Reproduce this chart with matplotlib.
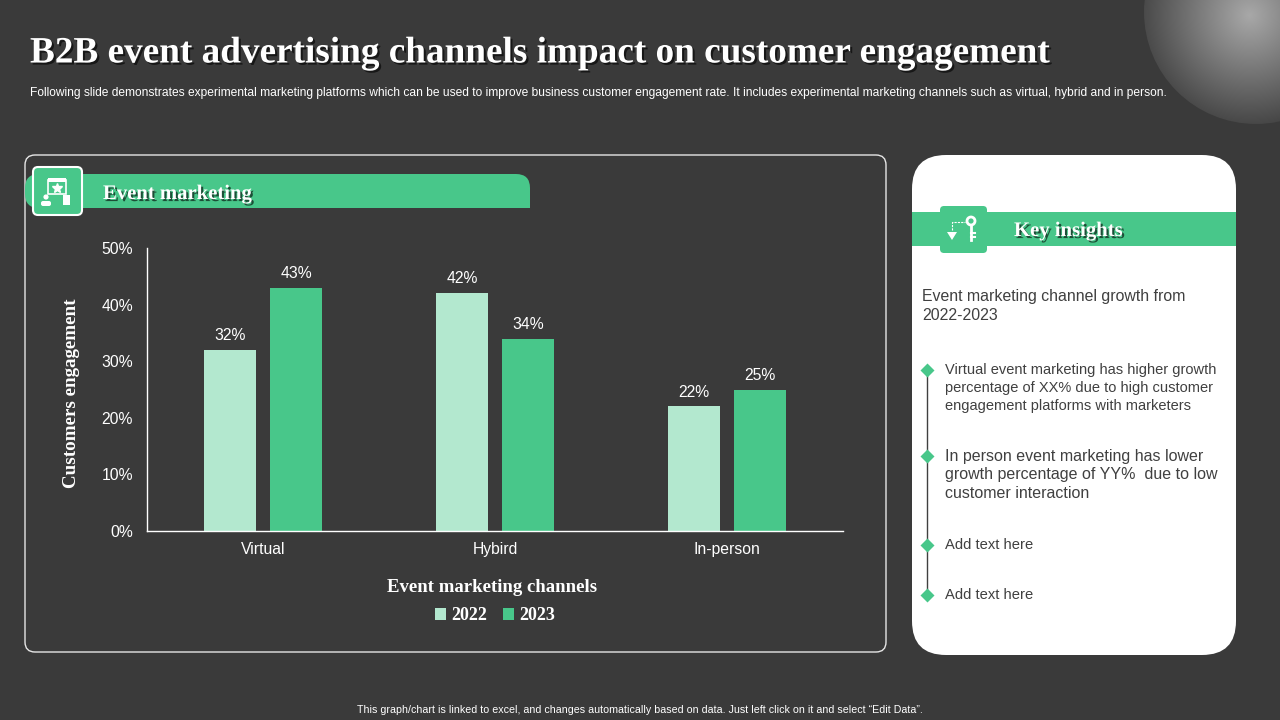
import numpy as np
import matplotlib
matplotlib.use("Agg")
from matplotlib import pyplot as plt
from matplotlib.patches import FancyBboxPatch, Rectangle, Circle, Polygon
import matplotlib.patheffects as pe

# data
categories = ["Virtual", "Hybird", "In-person"]
years = ["2022", "2023"]
engagement_2022 = [32, 42, 22]
engagement_2023 = [43, 34, 25]
y_ticks = [0, 10, 20, 30, 40, 50]

title = "B2B event advertising channels impact on customer engagement"
subtitle = ("Following slide demonstrates experimental marketing platforms which can be used to improve "
            "business customer engagement rate. It includes experimental marketing channels such as "
            "virtual, hybrid and in person.")
footer = ("This graph/chart is linked to excel, and changes automatically based on data. "
          "Just left click on it and select \u201cEdit Data\u201d.")
insight_head = ["Event marketing channel growth from", "2022-2023"]
bullets = [
    ["Virtual event marketing has higher growth", "percentage of XX% due to high customer",
     "engagement platforms with marketers"],
    ["In person event marketing has lower", "growth percentage of YY%  due to low",
     "customer interaction"],
    ["Add text here"],
    ["Add text here"],
]

bg = "#3a3a3a"
green = "#48c78a"
light_green = "#b3e8cf"
text_grey = "#404040"
serif = "Liberation Serif"
sans = "Liberation Sans"

fig = plt.figure(figsize=(12.8, 7.2), dpi=100)
fig.patch.set_facecolor(bg)

# overlay in pixel coordinates for the slide decoration
deco = fig.add_axes([0, 0, 1, 1], zorder=0)
deco.axis("off")

# shaded sphere top right
gx, gy = np.meshgrid(np.linspace(1140, 1280, 200), np.linspace(0, 130, 200))
d = np.hypot(gx - 1250, gy - 15) / 115.0
shade = np.clip(0.66 - 0.40 * d, 0.26, 1)
img = deco.imshow(np.dstack([shade, shade, shade]), extent=(1140, 1280, 130, 0),
                  origin="upper", zorder=1, interpolation="bilinear")
img.set_clip_path(Circle((1256, 12), 112, transform=deco.transData))
deco.set_xlim(0, 1280)
deco.set_ylim(720, 0)
deco.set_aspect("auto")

shadow = [pe.withSimplePatchShadow(offset=(1.5, -1.5), shadow_rgbFace="black", alpha=0.6)]
deco.text(30, 53, title, color="white", fontsize=26.8, fontweight="bold", family=serif,
          va="center", ha="left", path_effects=shadow, zorder=3)
deco.text(30, 93, subtitle, color="white", fontsize=8.65, family=sans, va="center", ha="left", zorder=3)
deco.text(640, 710, footer, color="white", fontsize=7.7, family=sans, va="center", ha="center", zorder=3)

# left chart panel
deco.add_patch(FancyBboxPatch((25, 155), 861, 497, boxstyle="round,pad=0,rounding_size=10",
                              fc="none", ec="#e6e6e6", lw=1.0, zorder=2))
deco.add_patch(FancyBboxPatch((25, 174), 505, 34, boxstyle="round,pad=0,rounding_size=14",
                              fc=green, ec="none", zorder=2))
deco.add_patch(Rectangle((480, 194), 50, 14, fc=green, ec="none", zorder=2))
deco.add_patch(FancyBboxPatch((33, 167), 49, 48, boxstyle="round,pad=0,rounding_size=5",
                              fc=green, ec="white", lw=1.5, zorder=3))
# calendar / person icon
deco.add_patch(Rectangle((48, 180), 18, 14, fc="none", ec="white", lw=1.2, zorder=4))
deco.add_patch(Rectangle((48, 178), 18, 4, fc="white", ec="none", zorder=4))
deco.plot([57], [188], marker="*", ms=7, color="white", zorder=5)
deco.add_patch(Circle((46, 197), 2.6, fc="white", ec="none", zorder=4))
deco.add_patch(FancyBboxPatch((41, 201), 10, 5, boxstyle="round,pad=0,rounding_size=2",
                              fc="white", ec="none", zorder=4))
deco.add_patch(Rectangle((63, 195), 7, 10, fc="white", ec="none", zorder=4))
deco.text(103, 194, "Event marketing", color="white", fontsize=14.9, fontweight="bold", family=serif,
          va="center", ha="left", path_effects=shadow, zorder=4)

# right insights panel
deco.add_patch(FancyBboxPatch((912, 155), 324, 500, boxstyle="round,pad=0,rounding_size=34",
                              fc="white", ec="none", zorder=2))
deco.add_patch(Rectangle((912, 212), 324, 34, fc=green, ec="none", zorder=3))
deco.add_patch(FancyBboxPatch((940, 206), 47, 47, boxstyle="round,pad=0,rounding_size=4",
                              fc=green, ec="none", zorder=4))
# key icon
deco.add_patch(Circle((971, 221), 4, fc="none", ec="white", lw=2, zorder=5))
deco.plot([971, 971], [225, 240], color="white", lw=2, zorder=5)
deco.plot([971, 975], [233, 233], color="white", lw=1.5, zorder=5)
deco.plot([971, 975], [237, 237], color="white", lw=1.5, zorder=5)
deco.plot([952, 952, 965], [230, 222, 222], color="white", lw=0.8, ls=(0, (2, 1)), zorder=5)
deco.add_patch(Polygon([[947, 232], [957, 232], [952, 240]], fc="white", ec="none", zorder=5))
deco.text(1014, 231, "Key insights", color="white", fontsize=14.9, fontweight="bold", family=serif,
          va="center", ha="left", path_effects=shadow, zorder=5)

for i, line in enumerate(insight_head):
    deco.text(922, 297 + 19 * i, line, color=text_grey, fontsize=11.4, family=sans,
              va="center", ha="left", zorder=5)

bullet_y = [370, 456, 545, 595]
bullet_size = [10.5, 11.5, 10.6, 10.6]
bullet_step = [18, 19, 18, 18]
deco.plot([927, 927], [bullet_y[0], bullet_y[-1]], color=text_grey, lw=1, zorder=4)
for by, lines, fs, step in zip(bullet_y, bullets, bullet_size, bullet_step):
    deco.plot([927], [by], marker="D", ms=7, color=green, mec="none", zorder=5)
    for i, line in enumerate(lines):
        deco.text(945, by + step * i, line, color=text_grey, fontsize=fs, family=sans,
                  va="center", ha="left", zorder=5)

# bar chart
ax = fig.add_axes([147 / 1280, 1 - 531 / 720, 696 / 1280, 283 / 720], zorder=2)
ax.patch.set_alpha(0)
x = np.arange(len(categories))
w = 0.224
off = 0.142
b1 = ax.bar(x - off, engagement_2022, w, color=light_green, label=years[0])
b2 = ax.bar(x + off, engagement_2023, w, color=green, label=years[1])
for bars in (b1, b2):
    for rect in bars:
        h = rect.get_height()
        ax.annotate(f"{h:.0f}%", (rect.get_x() + rect.get_width() / 2, h), xytext=(0, 5),
                    textcoords="offset points", ha="center", va="bottom", color="white",
                    fontsize=11.3, family=sans)
ax.set_xlim(-0.5, 2.5)
ax.set_ylim(0, 50)
ax.set_yticks(y_ticks)
ax.set_yticklabels([f"{t}%" for t in y_ticks], family=sans, fontsize=11.3, color="white")
ax.set_xticks(x)
ax.set_xticklabels(categories, family=sans, fontsize=11.3, color="white")
ax.tick_params(length=0, pad=10)
ax.tick_params(axis="x", pad=8)
for s in ("top", "right"):
    ax.spines[s].set_visible(False)
for s in ("left", "bottom"):
    ax.spines[s].set_color("white")
    ax.spines[s].set_linewidth(1)

fig.text(71 / 1280, 1 - 393 / 720, "Customers engagement", rotation=90, color="white",
         fontsize=13.7, fontweight="bold", family=serif, ha="center", va="center")
fig.text(492 / 1280, 1 - 587 / 720, "Event marketing channels", color="white",
         fontsize=13.5, fontweight="bold", family=serif, ha="center", va="center")
fig.legend(handles=[b1, b2], labels=years, loc="center", bbox_to_anchor=(495 / 1280, 1 - 616 / 720),
           ncol=2, frameon=False, handlelength=0.6, handleheight=0.6, handletextpad=0.3,
           columnspacing=0.9, labelcolor="white",
           prop={"family": serif, "weight": "bold", "size": 13})

fig.savefig("out.png", dpi=100, facecolor=bg)
